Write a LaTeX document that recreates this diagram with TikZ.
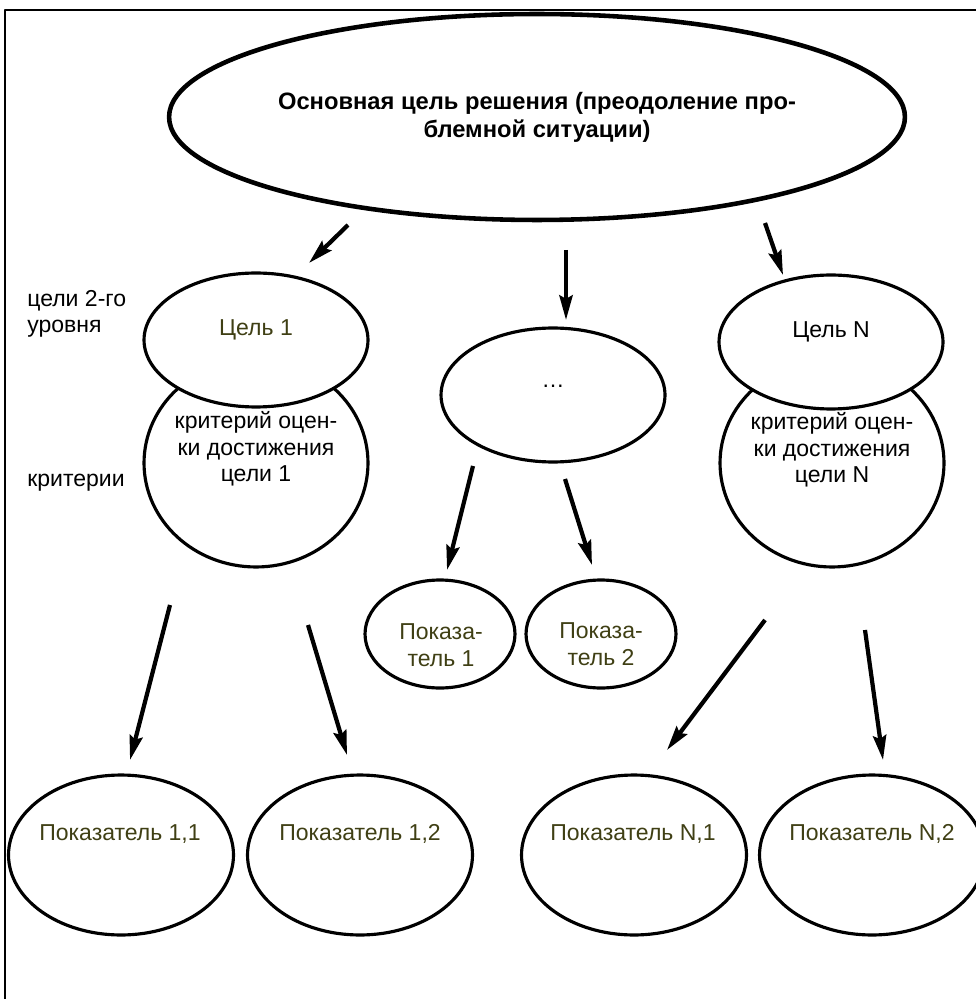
\documentclass[tikz,border=0pt]{standalone}
\usepackage{fontspec}
\setmainfont{Liberation Sans}
\usetikzlibrary{shapes.geometric,arrows.meta,calc}
\definecolor{darkolive}{HTML}{3F3F14}

\begin{document}
\begin{tikzpicture}[
  x=0.02cm, y=-0.02cm,
  line join=round,
  every node/.style={inner sep=0pt},
  txt/.style={font=\fontsize{13.1pt}{15.2pt}\selectfont, align=center},
  oltxt/.style={txt, text=darkolive},
  side/.style={txt, align=left, anchor=west},
  frame/.style={line width=1.1pt},
  main/.style={ellipse, draw, line width=2.6pt, minimum width=14.72cm, minimum height=4.12cm,
    font=\fontsize{13.5pt}{15.9pt}\selectfont\bfseries, align=center},
  goal/.style={ellipse, draw, fill=white, line width=1.8pt, minimum width=4.48cm, minimum height=2.68cm},
  crit/.style={ellipse, draw, line width=1.8pt, minimum width=4.48cm, minimum height=4.16cm},
  ind/.style={ellipse, draw, line width=1.8pt, minimum width=3cm, minimum height=2.16cm},
  leaf/.style={ellipse, draw, line width=1.8pt, minimum width=4.5cm, minimum height=3.2cm},
  link/.style={line width=2.4pt, -{Stealth[length=14pt, width=7.5pt, inset=2pt]}},
]
\useasboundingbox (0,0) rectangle (975,999);
\draw[frame] (5,999) -- (5,10) -- (980,10);

\node[main] (main) at (537,117) {Основная цель решения (преодоление про-\\блемной ситуации)};

\node[crit] (crit1) at (256,463) {};
\node[crit] (critN) at (832,463) {};
\node[goal] (goal1) at (256,340) {};
\node[goal] (goaldots) at (553,395) {};
\node[goal] (goalN) at (831,342) {};
\node[ind] (ind1) at (440,634) {};
\node[ind] (ind2) at (601,634) {};
\node[leaf] (ind11) at (121,855) {};
\node[leaf] (ind12) at (360,855) {};
\node[leaf] (indN1) at (634,855) {};
\node[leaf] (indN2) at (872,855) {};

\node[oltxt] (goal1-t) at ($(goal1)+(0,-10)$) {Цель 1};
\node[txt] (goaldots-t) at ($(goaldots)+(0,-9)$) {…};
\node[txt] (goalN-t) at ($(goalN)+(0,-10)$) {Цель N};
\node[txt] (crit1-t) at ($(crit1)+(0,-14)$) {критерий оцен-\\ки достижения\\цели 1};
\node[txt] (critN-t) at ($(critN)+(0,-13)$) {критерий оцен-\\ки достижения\\цели N};
\node[oltxt] (ind1-t) at ($(ind1)+(1,11)$) {Показа-\\тель 1};
\node[oltxt] (ind2-t) at ($(ind2)+(0,10)$) {Показа-\\тель 2};
\node[oltxt] (ind11-t) at ($(ind11)+(-1,-21)$) {Показатель 1,1};
\node[oltxt] (ind12-t) at ($(ind12)+(0,-21)$) {Показатель 1,2};
\node[oltxt] (indN1-t) at ($(indN1)+(-1,-21)$) {Показатель N,1};
\node[oltxt] (indN2-t) at ($(indN2)+(0,-21)$) {Показатель N,2};

\node[side] (level2) at (27,314) {цели 2-го\\уровня};
\node[side] (critlabel) at (27,483) {критерии};

\coordinate (from1) at (348,225); \coordinate (to1) at (309,263);
\coordinate (from2) at (566,250); \coordinate (to2) at (566,320);
\coordinate (from3) at (765,223); \coordinate (to3) at (783,275);
\coordinate (from4) at (170,605); \coordinate (to4) at (130,760);
\coordinate (from5) at (308,625); \coordinate (to5) at (347,755);
\coordinate (from6) at (473,466); \coordinate (to6) at (447,570);
\coordinate (from7) at (565,479); \coordinate (to7) at (592,565);
\coordinate (from8) at (765,620); \coordinate (to8) at (667,750);
\coordinate (from9) at (865,630); \coordinate (to9) at (883,760);

\draw[link] (from1) -- (to1);
\draw[link] (from2) -- (to2);
\draw[link] (from3) -- (to3);
\draw[link] (from4) -- (to4);
\draw[link] (from5) -- (to5);
\draw[link] (from6) -- (to6);
\draw[link] (from7) -- (to7);
\draw[link] (from8) -- (to8);
\draw[link] (from9) -- (to9);
\end{tikzpicture}
\end{document}
